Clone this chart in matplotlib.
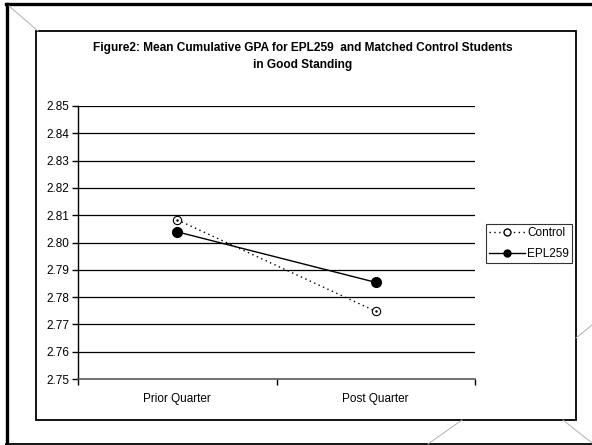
import matplotlib.pyplot as plt
from matplotlib.lines import Line2D
from matplotlib.patches import Rectangle

plt.rcParams['font.family'] = ['Liberation Sans', 'DejaVu Sans']

quarters = ['Prior Quarter', 'Post Quarter']
control = [2.8083, 2.7748]
epl259 = [2.8039, 2.7854]
yticks = [2.75, 2.76, 2.77, 2.78, 2.79, 2.80, 2.81, 2.82, 2.83, 2.84, 2.85]

W, H = 592, 445
fig = plt.figure(figsize=(W / 100, H / 100), dpi=100)

def fx(px):
    return px / W

def fy(py):
    return 1 - py / H

def fline(x1, y1, x2, y2, **kw):
    fig.lines.append(Line2D([fx(x1), fx(x2)], [fy(y1), fy(y2)], transform=fig.transFigure, **kw))

# outer frame (left, top thick; bottom thinner; no right side)
fline(7, 4, 7, 445, color='black', lw=2.4)
fline(6, 4, 592, 4, color='black', lw=2.4)
fline(6, 443.5, 592, 443.5, color='black', lw=1.3)
# inner chart frame
fig.patches.append(Rectangle((fx(36), fy(419.5)), fx(576) - fx(36), fy(31) - fy(419.5),
                             transform=fig.transFigure, fill=False, lw=1.3, ec='black'))
# thin grey corner lines
for (x1, y1, x2, y2) in [(9, 6, 38, 31), (462, 420, 428, 444), (563, 420, 592, 443),
                         (576, 338, 592, 325)]:
    fline(x1, y1, x2, y2, color='#b0b0b0', lw=0.7)

ax = fig.add_axes([fx(78), fy(379), fx(475) - fx(78), fy(106) - fy(379)])
xpos = [0.5, 1.5]
for y in yticks[1:]:
    ax.axhline(y, color='black', lw=0.9, zorder=1)

ax.plot(xpos, control, ls=(0, (1, 2.5)), color='black', lw=1, marker='o', ms=6,
        mfc='white', mec='black', mew=0.8, label='Control', zorder=3)
ax.plot(xpos, control, ls='none', marker='.', ms=1.5, color='black', zorder=4)
ax.plot(xpos, epl259, ls='-', color='black', lw=1, marker='o', ms=7,
        mfc='black', mec='black', label='EPL259', zorder=3)

ax.set_xlim(0, 2)
ax.set_ylim(2.75, 2.85)
ax.set_yticks(yticks)
ax.set_yticklabels([f'{v:.2f}' for v in yticks], fontsize=8.5)
ax.set_xticks([0, 1, 2])
ax.set_xticklabels([])
ax.set_xticks(xpos, minor=True)
ax.set_xticklabels(quarters, minor=True, fontsize=8.5)
ax.tick_params(axis='x', which='minor', length=0, pad=10)
ax.tick_params(axis='x', which='major', length=4, width=1, direction='out')
ax.tick_params(axis='y', length=4, width=1, direction='out', pad=2)
for s in ['top', 'right']:
    ax.spines[s].set_visible(False)
ax.spines['left'].set_linewidth(1)
ax.spines['bottom'].set_linewidth(1.2)
ax.spines['bottom'].set_color('#555555')

fig.text(fx(303), fy(48), 'Figure2: Mean Cumulative GPA for EPL259  and Matched Control Students',
         ha='center', va='center', fontsize=8.6, fontweight='bold')
fig.text(fx(303), fy(65), 'in Good Standing', ha='center', va='center',
         fontsize=8.6, fontweight='bold')

h = [Line2D([], [], ls=(0, (1, 2.5)), color='black', lw=1, marker='o', ms=5, mfc='white', mec='black'),
     Line2D([], [], ls='-', color='black', lw=1, marker='o', ms=5, mfc='black', mec='black')]
leg = fig.legend(h, ['Control', 'EPL259'], loc='center', bbox_to_anchor=(fx(529), fy(243.5)),
                 fontsize=8.5, frameon=True, fancybox=False, handlelength=3.0,
                 handletextpad=0.2, borderpad=0.3, labelspacing=0.75, borderaxespad=0)
leg.get_frame().set_edgecolor('black')
leg.get_frame().set_linewidth(0.8)

fig.savefig('out.png', dpi=100)
